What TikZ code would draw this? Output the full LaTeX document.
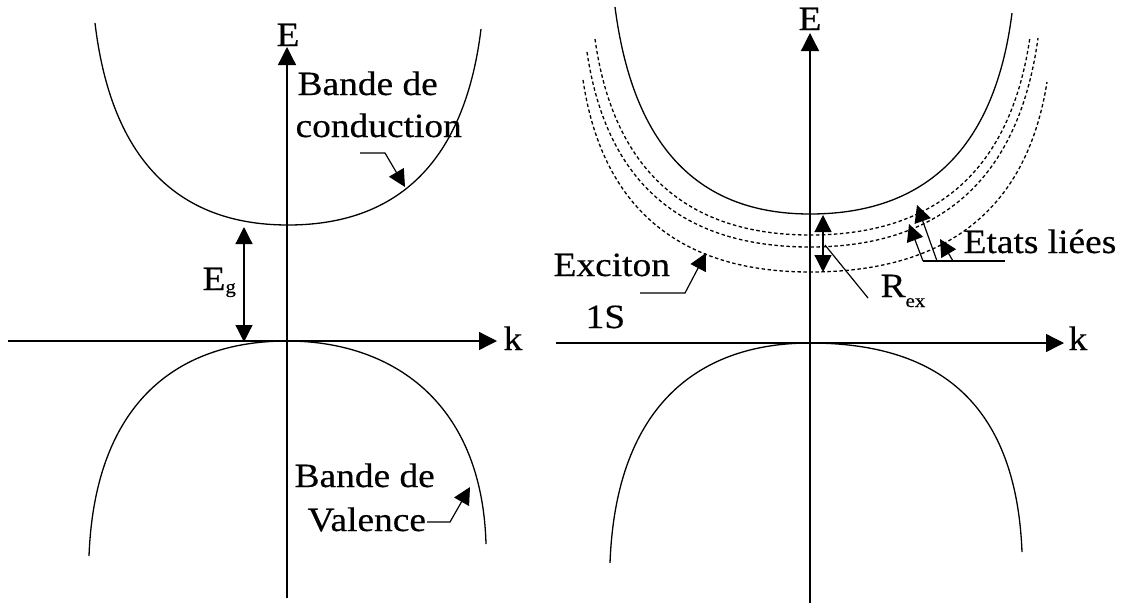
\documentclass[tikz,border=0pt]{standalone}
\usepackage{fontspec}
\setmainfont{Liberation Serif}[FakeStretch=1.1,FakeBold=0.4]
\usetikzlibrary{arrows.meta}
\begin{document}
\begin{tikzpicture}[x=1pt,y=-1pt,
  line width=1.2pt,
  font=\fontsize{34}{43}\selectfont,
  axis/.style={line width=1.3pt,-{Triangle[length=18pt,width=18pt]}},
  band/.style={line width=1.3pt},
  exc/.style={line width=1.3pt,dash pattern=on 3.5pt off 2.5pt},
  lead/.style={line width=1.2pt,-{Triangle[length=17pt,width=17pt]}},
  dbl/.style={line width=1.2pt,{Triangle[length=17pt,width=17pt]}-{Triangle[length=17pt,width=17pt]}},
  lbl/.style={inner sep=0pt,anchor=base west}]
\fill[white] (0,0) rectangle (1139,603);
\useasboundingbox (0,0) rectangle (1139,603);

% ---------- left panel ----------
\coordinate (lxs) at (8,341);   \coordinate (lxe) at (497,341);
\coordinate (lys) at (287,598); \coordinate (lye) at (287,47);
\draw[axis] (lxs) -- (lxe);
\draw[axis] (lys) -- (lye);
\node[inner sep=0pt,anchor=base] (lE) at (288,46) {E};
\node[lbl] (lk) at (503,350) {k};

% conduction band
\draw[band] (95,23) .. controls (110,150) and (170,225) .. (288,225)
            .. controls (406,225) and (466,152) .. (481,29);
% valence band
\draw[band] (89,556) .. controls (95,400) and (180,341) .. (287,341)
            .. controls (390,341) and (482,400) .. (486,544);

% gap arrow
\coordinate (ga) at (244,227); \coordinate (gb) at (244,342);
\draw[dbl] (ga) -- (gb);
\node[lbl] (eg) at (202,290) {E\raisebox{-3pt}{\fontsize{19}{19}\selectfont g}};

% labels
\node[lbl] (bc1) at (297,95) {Bande de};
\node[lbl] (bc2) at (295,137) {conduction};
\node[lbl] (bv1) at (294,487) {Bande de};
\node[lbl] (bv2) at (307,531) {Valence};
\coordinate (lc0) at (360,153); \coordinate (lc1) at (385,153); \coordinate (lct) at (405,187);
\draw[lead] (lc0) -- (lc1) -- (lct);
\coordinate (lv0) at (427,522); \coordinate (lv1) at (450,522); \coordinate (lvt) at (470,487);
\draw[lead] (lv0) -- (lv1) -- (lvt);

% ---------- right panel ----------
\coordinate (rxs) at (556,343);  \coordinate (rxe) at (1064,343);
\coordinate (rys) at (810,603);  \coordinate (rye) at (810,33);
\draw[axis] (rxs) -- (rxe);
\draw[axis] (rys) -- (rye);
\node[inner sep=0pt,anchor=base] (rE) at (810,30) {E};
\node[lbl] (rk) at (1068,350) {k};

% conduction band
\draw[band] (615,7) .. controls (632,139) and (692,214) .. (810,214)
            .. controls (933,214) and (996,140) .. (1012,13);
% exciton states
\draw[exc] (595,39) .. controls (612,162) and (679,235) .. (810,235)
           .. controls (944,235) and (1012,162) .. (1030,37);
\draw[exc] (587,52) .. controls (605,175) and (674,247) .. (810,247)
           .. controls (949,247) and (1020,170) .. (1038,38);
\draw[exc] (583,80) .. controls (601,201) and (672,272) .. (810,272)
           .. controls (955,272) and (1028,202) .. (1047,82);
% valence band
\draw[band] (610,563) .. controls (616,402) and (702,343) .. (810,343)
            .. controls (935,343) and (1016,400) .. (1022,552);

% R_ex
\coordinate (ra) at (823,215); \coordinate (rb) at (823,272);
\draw[dbl] (ra) -- (rb);
\coordinate (rl0) at (825,245); \coordinate (rl1) at (868,298);
\draw (rl0) -- (rl1);
\node[lbl] (rex) at (880,297) {R\raisebox{-10pt}{\fontsize{19}{19}\selectfont ex}};

% Exciton 1S
\node[lbl] (ex1) at (553,276) {Exciton};
\node[lbl] (ex2) at (585,328) {1S};
\coordinate (xl0) at (640,293); \coordinate (xl1) at (685,293); \coordinate (xlt) at (706,253);
\draw[lead] (xl0) -- (xl1) -- (xlt);

% Etats liees
\node[lbl] (el) at (963,253) {Etats liées};
\coordinate (u0) at (923,261); \coordinate (u1) at (1005,261);
\coordinate (u2) at (937,261); \coordinate (u3) at (953,261);
\coordinate (ta) at (909,224); \coordinate (tb) at (917,205); \coordinate (tc) at (940,239);
\draw (u0) -- (u1);
\draw[lead] (u0) -- (ta);
\draw[lead] (u2) -- (tb);
\draw[lead] (u3) -- (tc);
\end{tikzpicture}
\end{document}
